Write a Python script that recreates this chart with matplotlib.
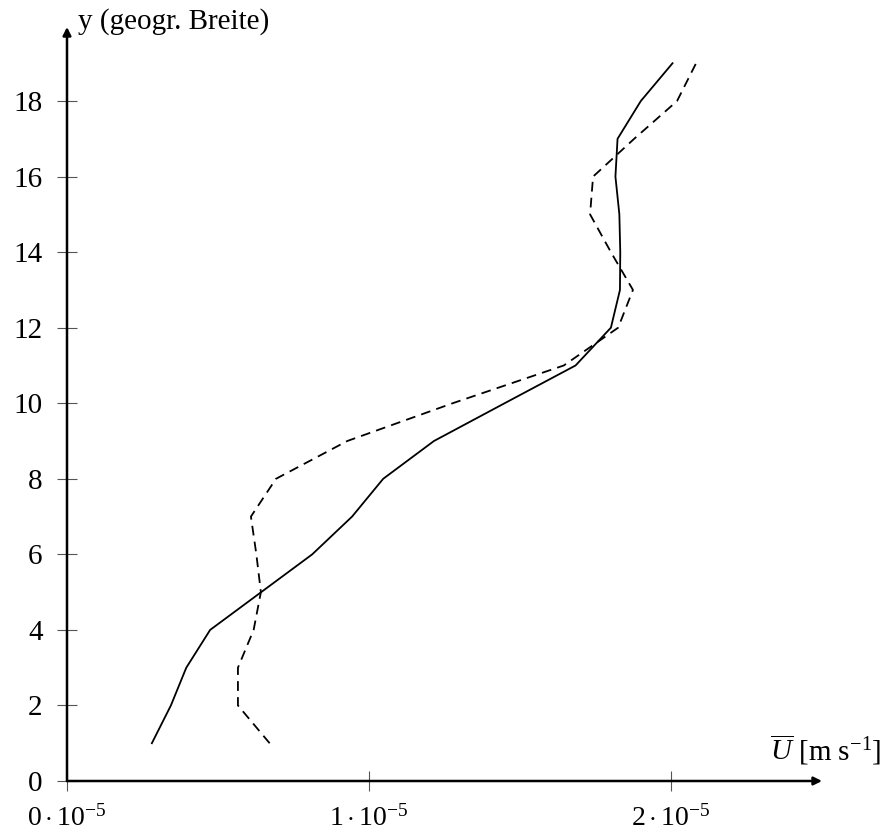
#!/usr/bin/env python3
"""
Meridional profile of the mean zonal wind U over latitude y (solid vs dashed run).
"""

import matplotlib
matplotlib.use("Agg")
import matplotlib.pyplot as plt

plt.rcParams["font.family"] = ["Liberation Serif", "DejaVu Serif"]
plt.rcParams["mathtext.fontset"] = "custom"
plt.rcParams["mathtext.rm"] = "Liberation Serif"
plt.rcParams["mathtext.it"] = "Liberation Serif:italic"
plt.rcParams["lines.scale_dashes"] = False

# latitude (geogr. Breite)
lat = [1, 2, 3, 4, 5, 6, 7, 8, 9, 10, 11, 12, 13, 14, 15, 16, 17, 18, 19]

# mean zonal wind, m/s
u_solid = [0.281e-5, 0.344e-5, 0.395e-5, 0.474e-5, 0.643e-5, 0.812e-5, 0.944e-5,
           1.047e-5, 1.215e-5, 1.449e-5, 1.684e-5, 1.801e-5, 1.831e-5, 1.832e-5,
           1.829e-5, 1.816e-5, 1.823e-5, 1.900e-5, 2.005e-5]
u_dashed = [0.671e-5, 0.566e-5, 0.566e-5, 0.618e-5, 0.642e-5, 0.627e-5, 0.609e-5,
            0.692e-5, 0.928e-5, 1.277e-5, 1.645e-5, 1.825e-5, 1.874e-5, 1.801e-5,
            1.732e-5, 1.742e-5, 1.878e-5, 2.020e-5, 2.083e-5]

x_ticks = [0.0, 1e-5, 2e-5]
x_tick_labels = [r"$0\cdot10^{-5}$", r"$1\cdot10^{-5}$", r"$2\cdot10^{-5}$"]
y_ticks = [0, 2, 4, 6, 8, 10, 12, 14, 16, 18]

fig = plt.figure(figsize=(8.84, 8.34), dpi=100)
ax = fig.add_axes([67 / 884, 53 / 834, 755 / 884, 754 / 834])

ax.plot(u_solid, lat, color="black", lw=1.3)
ax.plot(u_dashed, lat, color="black", lw=1.3, dashes=(7, 4.5))

ax.set_xlim(0, 2.5e-5)
ax.set_ylim(0, 19.96)

for side in ("top", "right", "left", "bottom"):
    ax.spines[side].set_visible(False)

arrow = dict(arrowstyle="-|>", lw=1.8, color="black", mutation_scale=12,
             shrinkA=0, shrinkB=0)
ax.annotate("", xy=(1, 0), xytext=(0, 0), xycoords="axes fraction", arrowprops=arrow)
ax.annotate("", xy=(0, 1), xytext=(0, 0), xycoords="axes fraction", arrowprops=arrow)

ax.set_xticks(x_ticks, labels=x_tick_labels)
ax.set_yticks(y_ticks, labels=[str(v) for v in y_ticks])
ax.tick_params(direction="inout", length=15, width=0.8, color="#555555",
               labelsize=21, pad=10)
ax.tick_params(axis="x", pad=10, labelsize=20)

fig.text(78 / 884, 1 - 22 / 834, "y (geogr. Breite)", fontsize=21, va="center", ha="left")
fig.text(881 / 884, 1 - 750 / 834, r"$\overline{U}$ [m s$^{-1}$]", fontsize=21,
         va="center", ha="right")

fig.savefig("out.png", dpi=100)
plt.close(fig)
